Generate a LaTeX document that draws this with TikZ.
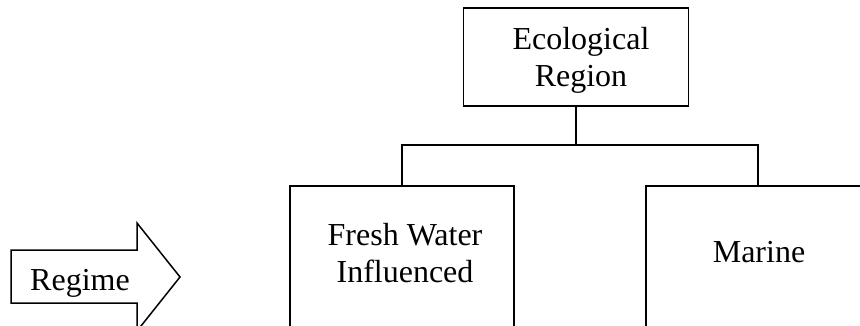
\documentclass[tikz,border=0pt]{standalone}
\usepackage{fontspec}
\setmainfont{Liberation Serif}
\begin{document}
\begin{tikzpicture}[x=1pt,y=-1pt,line width=1.5pt,
  box/.style={draw,rectangle,inner sep=0pt,outer sep=0pt},
  txt/.style={inner sep=0pt,outer sep=0pt,align=center,font=\fontsize{32}{37}\selectfont}]
\useasboundingbox (0,0) rectangle (860,325);
\clip (0,0) rectangle (860,325);
% boxes
\node[box,minimum width=225,minimum height=98] (eco) at (576,57) {};
\node[box,minimum width=224,minimum height=170] (fw) at (402,271) {};
\node[box,minimum width=224,minimum height=170] (mar) at (758,271) {};
% texts
\node[txt] (ecot) at (581,60) {Ecological\\Region};
\node[txt] (fwt) at (405,253) {Fresh Water\\Influenced};
\node[txt,anchor=base] (mart) at (759,262) {Marine};
% connectors
\coordinate (bus) at (576,145);
\draw (eco.south) -- (bus);
\draw (fw.north) |- (bus) -| (mar.north);
% regime arrow
\draw (11,250) -- (137,250) -- (137,223) -- (180,277) -- (137,331) -- (137,303) -- (11,303) -- cycle;
\node[txt,anchor=base] (reg) at (80,290) {Regime};
\end{tikzpicture}
\end{document}
